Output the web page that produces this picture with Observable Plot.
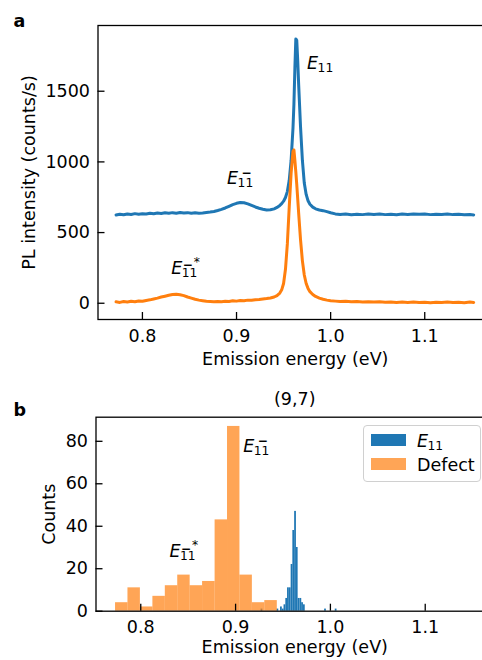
<!DOCTYPE html>
<html><head><meta charset="utf-8">
<script src="https://cdn.jsdelivr.net/npm/d3@7"></script>
<script src="https://cdn.jsdelivr.net/npm/@observablehq/plot@0.6"></script>
<style>
html,body{margin:0;padding:0;background:#fff;overflow:hidden}
#wrap{position:relative;width:482px;height:660px;overflow:hidden;background:#fff;font-family:"DejaVu Sans",sans-serif}
#top,#bot{position:absolute;left:0}
#top{top:0}
#bot{top:390px}
#legend{position:absolute;left:363px;top:425px;width:118px;height:57px;box-sizing:border-box;border:1px solid #d0d0d0;border-radius:4px;background:rgba(255,255,255,0.8)}
#legend .sw{position:absolute;left:6.5px;width:35px;height:12.5px}
#legend .lab{position:absolute;left:53px;font-size:17.5px;line-height:1;color:#000;white-space:nowrap}
</style></head><body>
<div id="wrap"><div id="top"></div><div id="bot"></div>
<div id="legend">
  <div class="sw" style="top:7.5px;background:#1f77b4"></div>
  <div class="lab" style="top:7px"><span style="font-style:italic">E</span><span style="font-size:12.25px;position:relative;top:3px;margin-left:-0.5px">11</span></div>
  <div class="sw" style="top:31.5px;background:#ff7f0e;opacity:0.7"></div>
  <div class="lab" style="top:30.5px">Defect</div>
</div>
</div>
<script>
// ---------- data ----------
const energy = [0.772,0.776,0.780,0.784,0.788,0.792,0.796,0.800,0.804,0.808,0.812,0.816,0.820,0.824,0.828,0.832,0.836,0.840,0.844,0.848,0.852,0.856,0.860,0.864,0.868,0.872,0.876,0.880,0.884,0.888,0.892,0.896,0.900,0.904,0.908,0.912,0.916,0.920,0.924,0.928,0.932,0.936,0.940,0.943,0.946,0.948,0.950,0.952,0.954,0.956,0.958,0.960,0.961,0.962,0.963,0.964,0.965,0.966,0.968,0.970,0.972,0.974,0.976,0.978,0.981,0.984,0.988,0.992,0.996,1.000,1.005,1.010,1.016,1.022,1.028,1.034,1.040,1.046,1.052,1.058,1.064,1.070,1.076,1.082,1.088,1.094,1.100,1.106,1.112,1.118,1.124,1.130,1.136,1.142,1.148,1.152];
const e11Intensity = [624,630,626,632,628,634,629,633,631,637,633,638,635,640,636,641,637,642,638,641,636,640,637,639,642,645,649,656,664,674,686,698,707,713,711,703,692,681,672,665,660,661,668,678,692,705,722,748,790,870,1010,1240,1410,1660,1870,1860,1720,1550,1250,1010,850,770,725,700,680,668,660,655,648,640,632,628,631,626,630,627,632,628,631,627,630,626,631,628,632,629,631,627,630,628,631,627,629,626,628,625];
const defectIntensity = [10,6,12,9,14,11,16,14,20,24,30,36,44,50,56,62,64,60,54,44,36,28,22,18,14,12,10,13,11,14,13,17,15,19,18,22,21,25,27,30,33,37,44,54,72,95,140,240,420,680,920,1075,1085,1010,930,840,740,640,450,300,200,140,105,82,62,48,36,28,22,18,15,12,14,10,12,9,11,8,10,7,9,6,8,6,9,5,7,4,7,5,8,5,7,4,8,6];

const xTicks = [0.8, 0.9, 1.0, 1.1];
const topYTicks = [0, 500, 1000, 1500];
const botYTicks = [0, 20, 40, 60, 80];

const defectEdges = [0.7734,0.7865,0.7996,0.8128,0.8259,0.8390,0.8521,0.8652,0.8784,0.8915,0.9046,0.9177,0.9308,0.9440];
const defectCounts = [4,11,2,7,12,17,12,14,43,87,17,4,5];

const e11BinWidth = 0.00186;
const e11BinLeft = [0.9269,0.9437,0.9474,0.9493,0.9511,0.9530,0.9548,0.9567,0.9586,0.9604,0.9623,0.9641,0.9660,0.9679,0.9697,0.9716,0.9939,1.0051];
const e11Counts  = [1,1,2,1,3,6,11,11,22,38,47,30,6,6,4,3,1,1];

// annotations: anchor = left/baseline of the italic E
const topAnnotE = [0.975, 0.890, 0.8306];
const topAnnotV = [1660, 845, 210];
const topAnnotKind = ["plain", "minus", "minusStar"];
const botAnnotE = [0.908, 0.8303];
const botAnnotV = [75, 25.3];
const botAnnotKind = ["minus", "minusStar"];

// ---------- helpers ----------
const FS = 17.5, SFS = 12.25;
function annotMarks(E, V, K) {
  const base = {x: E, y: V, textAnchor: "start", lineAnchor: "bottom", fill: "black"};
  return [
    Plot.text(E, {...base, text: () => "E", fontStyle: "italic", fontSize: FS}),
    Plot.text(E, {...base, text: () => "11", fontSize: SFS, dx: 10.5, dy: 3}),
    Plot.text(E, {...base, filter: (d, i) => K[i] === "minus", text: () => "\u2212", fontSize: SFS, fontWeight: "bold", dx: 14.5, dy: -6.8}),
    Plot.text(E, {...base, filter: (d, i) => K[i] === "minusStar", text: () => "\u2212", fontSize: SFS, fontWeight: "bold", dx: 11.5, dy: -4.6}),
    Plot.text(E, {...base, filter: (d, i) => K[i] === "minusStar", text: () => "*", fontSize: SFS, dx: 22.5, dy: -8})
  ];
}
const style = {fontFamily: '"DejaVu Sans", sans-serif', fontSize: FS + "px", background: "white", color: "black", overflow: "hidden"};
const fmtInt = d => String(d);
const fmt1 = d => d.toFixed(1);

// ---------- top panel ----------
const tML = 97.5, tMR = -10, tMT = 25, tMB = 71, tW = 482, tH = 390;
const tFrameH = tH - tMT - tMB, tFrameW = tW - tMR - tML;
const topPlot = Plot.plot({
  width: tW, height: tH, marginLeft: tML, marginRight: tMR, marginTop: tMT, marginBottom: tMB,
  style,
  x: {domain: [0.7528, 1.172], ticks: xTicks, tickSize: 0, tickPadding: 9.6, tickFormat: fmt1, label: null},
  y: {domain: [-115, 1965], ticks: topYTicks, tickSize: 0, tickPadding: 8, tickFormat: fmtInt, label: null},
  marks: [
    Plot.line(e11Intensity, {x: energy, y: e11Intensity, stroke: "#1f77b4", strokeWidth: 3, strokeLinejoin: "round"}),
    Plot.line(defectIntensity, {x: energy, y: defectIntensity, stroke: "#ff7f0e", strokeWidth: 3, strokeLinejoin: "round"}),
    ...annotMarks(topAnnotE, topAnnotV, topAnnotKind),
    Plot.ruleX(xTicks, {x: d => d, insetTop: tFrameH - 7, strokeWidth: 1.3}),
    Plot.ruleY(topYTicks, {y: d => d, insetRight: tFrameW - 7, strokeWidth: 1.3}),
    Plot.frame({strokeWidth: 1.3}),
    Plot.text(["Emission energy (eV)"], {frameAnchor: "bottom", text: d => d, textAnchor: "middle", lineAnchor: "bottom", dy: 45, fontSize: FS}),
    Plot.text(["PL intensity (counts/s)"], {frameAnchor: "left", text: d => d, textAnchor: "middle", lineAnchor: "middle", rotate: -90, dx: -69, fontSize: FS}),
    Plot.text(["a"], {frameAnchor: "top-left", text: d => d, textAnchor: "start", lineAnchor: "bottom", dx: -84.5, dy: 1, fontWeight: "bold", fontSize: FS})
  ]
});
document.getElementById("top").appendChild(topPlot);

// ---------- bottom panel ----------
const bML = 95.5, bMR = -11, bMT = 26.7, bMB = 49.3, bW = 482, bH = 270;
const bFrameH = bH - bMT - bMB, bFrameW = bW - bMR - bML;
const botPlot = Plot.plot({
  width: bW, height: bH, marginLeft: bML, marginRight: bMR, marginTop: bMT, marginBottom: bMB,
  style,
  x: {domain: [0.7528, 1.172], ticks: xTicks, tickSize: 0, tickPadding: 9, tickFormat: fmt1, label: null},
  y: {domain: [0, 91.35], ticks: botYTicks, tickSize: 0, tickPadding: 8, tickFormat: fmtInt, label: null},
  marks: [
    Plot.rectY(e11Counts, {x1: e11BinLeft, x2: e11BinLeft.map(d => d + e11BinWidth), y1: 0, y2: e11Counts, fill: "#1f77b4"}),
    Plot.rectY(defectCounts, {x1: defectEdges.slice(0, -1), x2: defectEdges.slice(1), y1: 0, y2: defectCounts, fill: "#ff7f0e", fillOpacity: 0.7}),
    ...annotMarks(botAnnotE, botAnnotV, botAnnotKind),
    Plot.ruleX(xTicks, {x: d => d, insetTop: bFrameH - 7, strokeWidth: 1.3}),
    Plot.ruleY(botYTicks, {y: d => d, insetRight: bFrameW - 7, strokeWidth: 1.3}),
    Plot.frame({strokeWidth: 1.3}),
    Plot.text(["(9,7)"], {frameAnchor: "top", text: d => d, textAnchor: "middle", lineAnchor: "bottom", dy: -12.7, fontSize: FS}),
    Plot.text(["Emission energy (eV)"], {frameAnchor: "bottom", text: d => d, textAnchor: "middle", lineAnchor: "bottom", dy: 42, fontSize: FS}),
    Plot.text(["Counts"], {frameAnchor: "left", text: d => d, textAnchor: "middle", lineAnchor: "middle", rotate: -90, dx: -47, fontSize: FS}),
    Plot.text(["b"], {frameAnchor: "top-left", text: d => d, textAnchor: "start", lineAnchor: "bottom", dx: -82.5, dy: -1.7, fontWeight: "bold", fontSize: FS})
  ]
});
document.getElementById("bot").appendChild(botPlot);
</script>
</body></html>
